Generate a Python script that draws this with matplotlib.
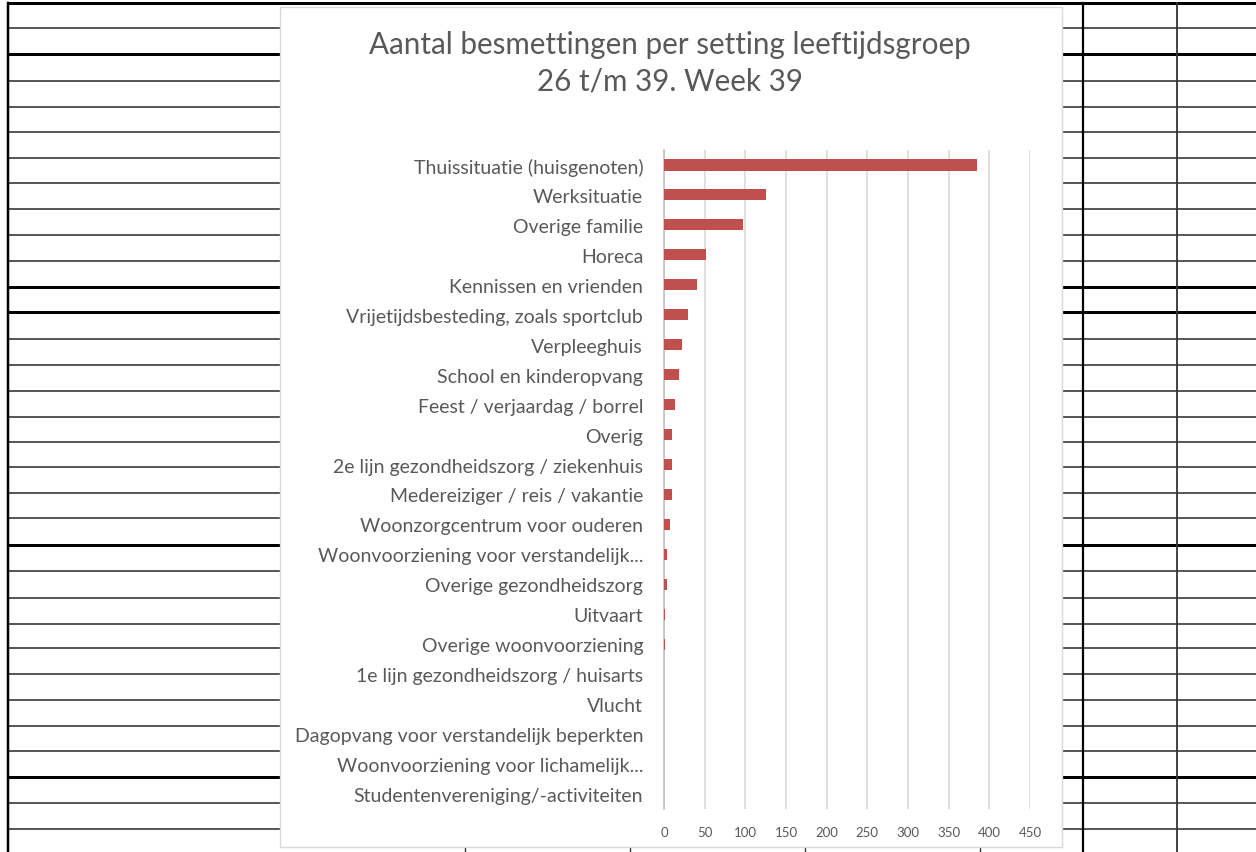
import numpy as np
import matplotlib
matplotlib.use("Agg")
import matplotlib.pyplot as plt
from matplotlib.lines import Line2D
from matplotlib.patches import Rectangle

# Data (Excel bar chart inside a spreadsheet screenshot)
settings = [
    "Thuissituatie (huisgenoten)",
    "Werksituatie",
    "Overige familie",
    "Horeca",
    "Kennissen en vrienden",
    "Vrijetijdsbesteding, zoals sportclub",
    "Verpleeghuis",
    "School en kinderopvang",
    "Feest / verjaardag / borrel",
    "Overig",
    "2e lijn gezondheidszorg / ziekenhuis",
    "Medereiziger / reis / vakantie",
    "Woonzorgcentrum voor ouderen",
    "Woonvoorziening voor verstandelijk...",
    "Overige gezondheidszorg",
    "Uitvaart",
    "Overige woonvoorziening",
    "1e lijn gezondheidszorg / huisarts",
    "Vlucht",
    "Dagopvang voor verstandelijk beperkten",
    "Woonvoorziening voor lichamelijk...",
    "Studentenvereniging/-activiteiten",
]
besmettingen = [385, 125, 97, 52, 40, 29, 22, 18, 14, 10, 10, 10, 7, 4, 4, 1, 1, 0, 0, 0, 0, 0]
x_ticks = [0, 50, 100, 150, 200, 250, 300, 350, 400, 450]

W, H = 1256, 853
fig = plt.figure(figsize=(W / 100, H / 100), dpi=100)
fig.patch.set_facecolor("white")

def px(x, y):
    # image pixel coords (top-left origin) -> figure fraction
    return x / W, 1 - y / H

# spreadsheet grid behind the chart
row_lines = [4, 29, 55, 82, 108, 133, 159, 184, 210, 236, 262, 288, 313, 340, 366,
             392, 418, 443, 468, 494, 519, 546, 572, 599, 625, 649, 675, 701, 727,
             752, 778, 804, 830]
thick_rows = [4, 55, 288, 313, 546, 778]
for y in row_lines:
    lw = 3.0 if y in thick_rows else 1.5
    col = "black" if y in thick_rows else "#222222"
    x0, y0 = px(8, y)
    x1, _ = px(W, y)
    fig.add_artist(Line2D([x0, x1], [y0, y0], color=col, lw=lw * 0.72, zorder=0))

for x, col, lw in [(8, "black", 2.5), (1083, "black", 2.2), (1177, "#333333", 1.8)]:
    xf, _ = px(x, 0)
    fig.add_artist(Line2D([xf, xf], [px(0, 4)[1], 0], color=col, lw=lw * 0.72, zorder=0))

# small column marks peeking out below the chart
for x in [465, 630, 805, 980]:
    xf, _ = px(x, 0)
    fig.add_artist(Line2D([xf, xf], [px(0, 848)[1], 0], color="#333333", lw=1.0, zorder=0))

# chart area
bx0, by0 = px(280, 848)
bx1, by1 = px(1062, 8)
fig.add_artist(Rectangle((bx0, by0), bx1 - bx0, by1 - by0, facecolor="white",
                         edgecolor="#d9d9d9", lw=1.0, zorder=1))

fig.text(px(670, 0)[0], px(0, 45)[1], "Aantal besmettingen per setting leeftijdsgroep",
         ha="center", va="center", fontsize=21.3, color="#595959", family="Lato", zorder=3)
fig.text(px(670, 0)[0], px(0, 81)[1], "26 t/m 39. Week 39",
         ha="center", va="center", fontsize=21.3, color="#595959", family="Lato", zorder=3)

left, top = px(664, 151)
right, bottom = px(1030, 810)
ax = fig.add_axes([left, bottom, right - left, top - bottom], zorder=2)
ax.set_facecolor("none")

ypos = np.arange(len(settings))
ax.barh(ypos, besmettingen, height=0.37, color="#C0504D", lw=0, zorder=3)
ax.set_ylim(len(settings) - 0.5, -0.5)
ax.set_xlim(0, 450)
ax.set_xticks(x_ticks)
ax.set_xticklabels([str(t) for t in x_ticks], fontsize=9.5, color="#595959", family="Lato")
ax.set_yticks(ypos)
ax.set_yticklabels(settings, fontsize=14, color="#595959", family="Lato")
ax.tick_params(axis="both", length=0)
ax.tick_params(axis="y", pad=15)
ax.tick_params(axis="x", pad=12)
ax.grid(axis="x", color="#d9d9d9", lw=1.2, zorder=0)
for s in ["top", "right", "bottom"]:
    ax.spines[s].set_visible(False)
ax.spines["left"].set_color("#bfbfbf")
ax.spines["left"].set_linewidth(1.2)

fig.savefig("out.png", dpi=100)
